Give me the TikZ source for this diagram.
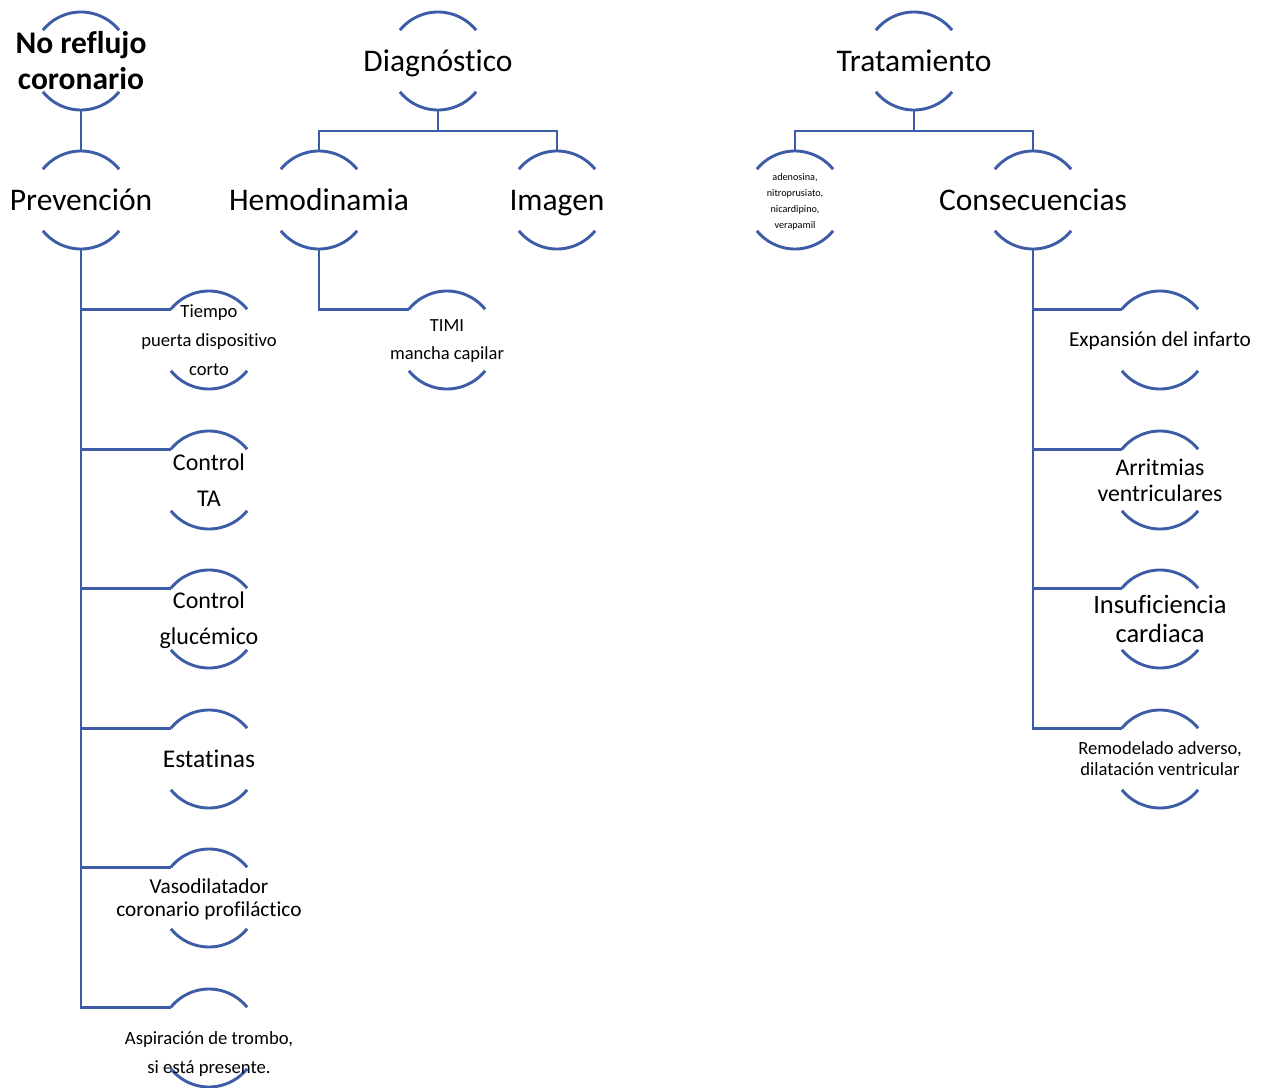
\documentclass[tikz,border=0pt]{standalone}
\usepackage{fontspec}
\setmainfont{Carlito}[RawFeature=-liga]
\definecolor{arcblue}{RGB}{60,92,166}
\newcommand\fs[2]{\fontsize{#1}{#2}\selectfont}
\tikzset{
  ring/.style={circle, minimum size=98pt, inner sep=0pt, outer sep=0pt},
  arcline/.style={draw=arcblue, line width=2.9pt},
  conn/.style={draw=arcblue, line width=2.9pt},
  txt/.style={align=center, inner sep=0pt, text=black},
  oneline/.style={inner sep=0pt, text=black, anchor=base}
}
\begin{document}
\begin{tikzpicture}[x=1pt,y=1pt]
\useasboundingbox[fill=white] (0,0) rectangle (1269,-1087);
% rings
\node[ring] (root) at (81,-61) {};
\node[ring] (prev) at (81,-200) {};
\node[ring] (diag) at (438,-61) {};
\node[ring] (trat) at (914,-61) {};
\node[ring] (hemo) at (319,-200) {};
\node[ring] (img) at (557,-200) {};
\node[ring] (aden) at (795,-200) {};
\node[ring] (cons) at (1033,-200) {};
\node[ring] (tiem) at (209,-340) {};
\node[ring] (ctat) at (209,-480) {};
\node[ring] (cglu) at (209,-619) {};
\node[ring] (esta) at (209,-759) {};
\node[ring] (vaso) at (209,-898) {};
\node[ring] (aspi) at (209,-1038) {};
\node[ring] (timi) at (447,-340) {};
\node[ring] (expa) at (1160,-340) {};
\node[ring] (arri) at (1160,-480) {};
\node[ring] (insu) at (1160,-619) {};
\node[ring] (remo) at (1160,-759) {};
\foreach \n in {root,prev,diag,trat,hemo,img,aden,cons,tiem,ctat,cglu,esta,vaso,aspi,timi,expa,arri,insu,remo}{
  \draw[arcline] (\n.141) arc[start angle=141,end angle=39,radius=49pt];
  \draw[arcline] (\n.219) arc[start angle=219,end angle=321,radius=49pt];
}
% connectors
\draw[conn] (root.south) -- (prev.north);
\draw[conn] (diag.south) -- ++(0,-21) -| (hemo.north);
\draw[conn] (diag.south) -- ++(0,-21) -| (img.north);
\draw[conn] (trat.south) -- ++(0,-21) -| (aden.north);
\draw[conn] (trat.south) -- ++(0,-21) -| (cons.north);
\foreach \n in {tiem,ctat,cglu,esta,vaso,aspi}{
  \draw[conn] (prev.south) |- (\n.141);
}
\draw[conn] (hemo.south) |- (timi.141);
\foreach \n in {expa,arri,insu,remo}{
  \draw[conn] (cons.south) |- (\n.141);
}
% texts
\node[txt, font=\fs{31.5}{36}\bfseries] (t-root) at (root) {No reflujo\\coronario};
\node[oneline, font=\fs{31.5}{38}] (t-prev) at ([yshift=-10]prev.center) {Prevención};
\node[oneline, font=\fs{31.5}{38}] (t-diag) at ([yshift=-10]diag.center) {Diagnóstico};
\node[oneline, font=\fs{31.5}{38}] (t-trat) at ([yshift=-10]trat.center) {Tratamiento};
\node[oneline, font=\fs{31.5}{38}] (t-hemo) at ([yshift=-10]hemo.center) {Hemodinamia};
\node[oneline, font=\fs{31.5}{38}] (t-img) at ([yshift=-10]img.center) {Imagen};
\node[oneline, font=\fs{31.5}{38}] (t-cons) at ([yshift=-10]cons.center) {Consecuencias};
\node[txt, font=\fs{10.2}{16}] (t-aden) at ([yshift=-1.5]aden.center) {adenosina,\\nitroprusiato,\\nicardipino,\\verapamil};
\node[txt, font=\fs{18.6}{29}] (t-tiem) at (tiem) {Tiempo\\puerta dispositivo\\corto};
\node[txt, font=\fs{24}{36}] (t-ctat) at (ctat) {Control\\TA};
\node[txt, font=\fs{24}{36}] (t-cglu) at ([yshift=-1.5]cglu.center) {Control\\glucémico};
\node[oneline, font=\fs{25.5}{30}] (t-esta) at ([yshift=-8]esta.center) {Estatinas};
\node[txt, font=\fs{21.3}{23}] (t-vaso) at ([yshift=-1.5]vaso.center) {Vasodilatador\\coronario profiláctico};
\node[txt, font=\fs{18.7}{29}] (t-aspi) at ([yshift=-16]aspi.center) {Aspiración de trombo,\\si está presente.};
\node[txt, font=\fs{18.5}{28}] (t-timi) at ([yshift=-1.5]timi.center) {TIMI\\mancha capilar};
\node[oneline, font=\fs{21.3}{26}] (t-expa) at ([yshift=-6.8]expa.center) {Expansión del infarto};
\node[txt, font=\fs{23.8}{26}] (t-arri) at (arri) {Arritmias\\ventriculares};
\node[txt, font=\fs{26.5}{29}] (t-insu) at (insu) {Insuficiencia\\cardiaca};
\node[txt, font=\fs{18.6}{21}] (t-remo) at (remo) {Remodelado adverso,\\dilatación ventricular};
\end{tikzpicture}
\end{document}
